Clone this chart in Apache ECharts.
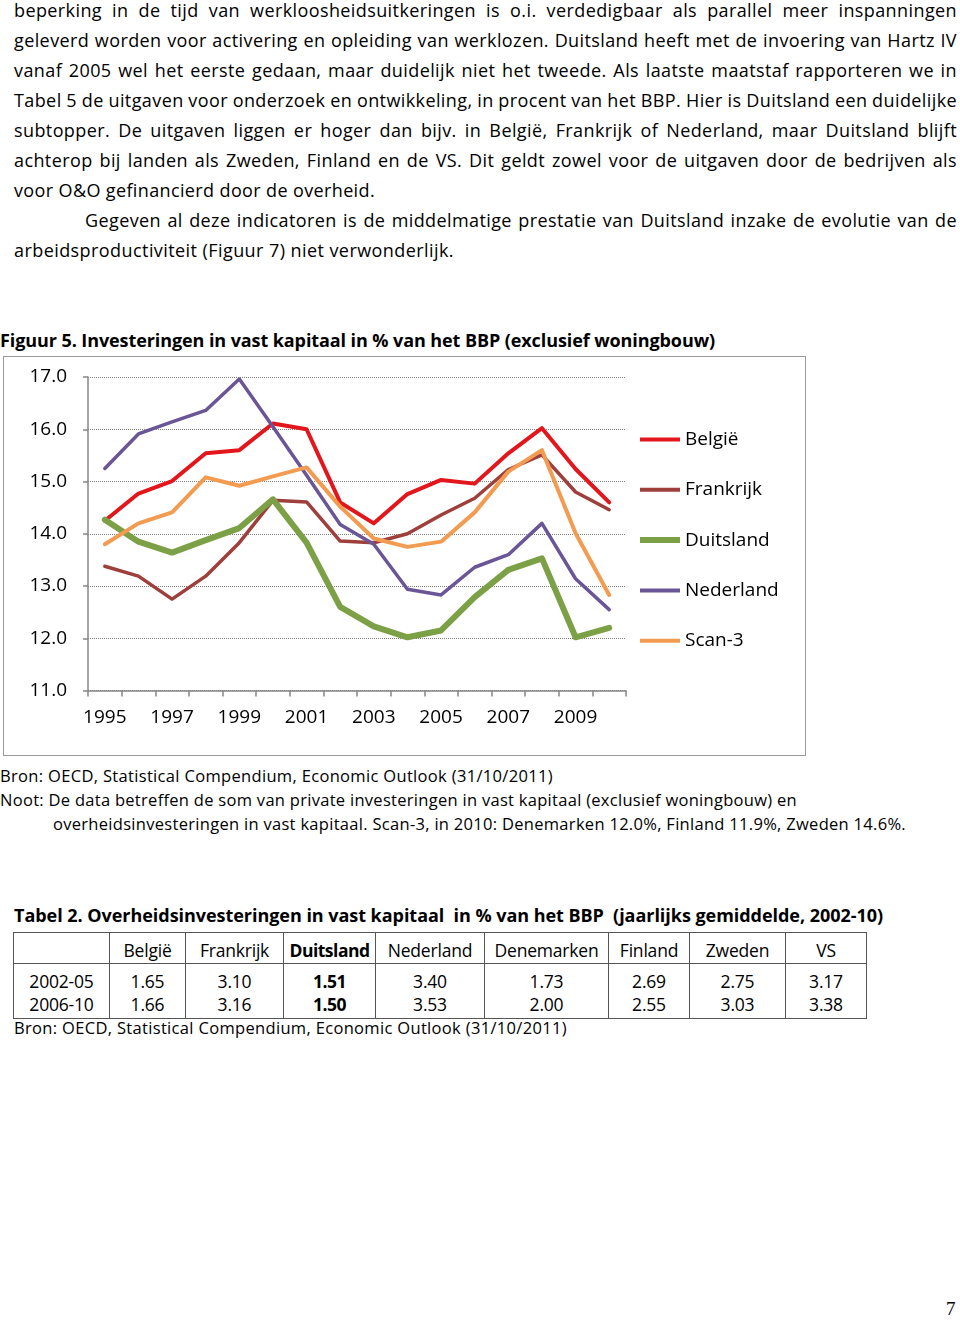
<!DOCTYPE html>
<html><head><meta charset="utf-8">
<script src="https://cdn.jsdelivr.net/npm/echarts@6/dist/echarts.min.js"></script>
<style>
html,body{margin:0;padding:0;background:#fff;}
body{width:960px;height:1321px;position:relative;overflow:hidden;font-family:"Open Sans",sans-serif;color:#000;}
.t{position:absolute;white-space:nowrap;line-height:24px;height:24px;}
.p{font-size:18px;}
.b{font-weight:bold;}
.s{font-size:16.5px;}
#frame{position:absolute;left:3px;top:356px;width:801px;height:398px;border:1px solid #9a9a9a;}
#chart{width:801px;height:398px;}
#tbl{position:absolute;left:13px;top:932px;border-collapse:collapse;font-size:17.5px;letter-spacing:-0.2px;table-layout:fixed;}
#tbl td{text-align:center;padding:0;border-left:1.5px solid #555;border-right:1.5px solid #555;white-space:nowrap;}
#tbl tr.h td{border-top:1.5px solid #555;border-bottom:1.5px solid #555;height:26px;line-height:26px;padding-top:4px;}
#tbl tr.r1 td{padding-top:6px;line-height:23px;}
#tbl tr.r2 td{line-height:23px;padding-bottom:2px;border-bottom:1.5px solid #555;}
#pg{position:absolute;left:946px;top:1298px;font-family:"Liberation Serif",serif;font-size:19px;}
</style></head><body>
<div class="t p" data-x="14" data-y="10" data-w="943" data-m="j">beperking in de tijd van werkloosheidsuitkeringen is o.i. verdedigbaar als parallel meer inspanningen</div>
<div class="t p" data-x="14" data-y="40" data-w="943" data-m="j">geleverd worden voor activering en opleiding van werklozen. Duitsland heeft met de invoering van Hartz IV</div>
<div class="t p" data-x="14" data-y="70" data-w="943" data-m="j">vanaf 2005 wel het eerste gedaan, maar duidelijk niet het tweede. Als laatste maatstaf rapporteren we in</div>
<div class="t p" data-x="14" data-y="100" data-w="943" data-m="j">Tabel 5 de uitgaven voor onderzoek en ontwikkeling, in procent van het BBP. Hier is Duitsland een duidelijke</div>
<div class="t p" data-x="14" data-y="130" data-w="943" data-m="j">subtopper. De uitgaven liggen er hoger dan bijv. in België, Frankrijk of Nederland, maar Duitsland blijft</div>
<div class="t p" data-x="14" data-y="160" data-w="943" data-m="j">achterop bij landen als Zweden, Finland en de VS. Dit geldt zowel voor de uitgaven door de bedrijven als</div>
<div class="t p ref" data-x="14" data-y="190" data-w="361" data-m="l">voor O&amp;O gefinancierd door de overheid.</div>
<div class="t p" data-x="85" data-y="220" data-w="872" data-m="j">Gegeven al deze indicatoren is de middelmatige prestatie van Duitsland inzake de evolutie van de</div>
<div class="t p ref" data-x="14" data-y="250" data-w="440" data-m="l">arbeidsproductiviteit (Figuur 7) niet verwonderlijk.</div>

<div class="t p b" data-x="0" data-y="340" data-w="715" data-m="l">Figuur 5. Investeringen in vast kapitaal in % van het BBP (exclusief woningbouw)</div>
<div id="frame"><div id="chart"></div></div>

<div class="t s" data-x="0" data-y="776" data-w="553" data-m="l">Bron: OECD, Statistical Compendium, Economic Outlook (31/10/2011)</div>
<div class="t s" data-x="0" data-y="800" data-w="797" data-m="l">Noot: De data betreffen de som van private investeringen in vast kapitaal (exclusief woningbouw) en</div>
<div class="t s" data-x="53" data-y="824" data-w="853" data-m="l">overheidsinvesteringen in vast kapitaal. Scan-3, in 2010: Denemarken 12.0%, Finland 11.9%, Zweden 14.6%.</div>

<div class="t p b" data-x="14" data-y="915" data-w="869" data-m="l">Tabel 2. Overheidsinvesteringen in vast kapitaal&nbsp; in % van het BBP&nbsp; (jaarlijks gemiddelde, 2002-10)</div>
<table id="tbl"></table>
<div class="t s" data-x="14" data-y="1028" data-w="553" data-m="l">Bron: OECD, Statistical Compendium, Economic Outlook (31/10/2011)</div>
<div id="pg">7</div>

<script>
// ---- Chart data (Figuur 5) ----
var years = ['1995','1996','1997','1998','1999','2000','2001','2002','2003','2004','2005','2006','2007','2008','2009','2010'];
var belgie    = [14.25, 14.77, 15.01, 15.54, 15.60, 16.11, 16.00, 14.60, 14.20, 14.76, 15.03, 14.96, 15.54, 16.02, 15.24, 14.60];
var frankrijk = [13.38, 13.19, 12.75, 13.19, 13.83, 14.64, 14.61, 13.86, 13.83, 14.00, 14.36, 14.68, 15.23, 15.51, 14.80, 14.46];
var duitsland = [14.27, 13.85, 13.64, 13.88, 14.11, 14.66, 13.83, 12.60, 12.23, 12.02, 12.15, 12.79, 13.31, 13.53, 12.02, 12.20];
var nederland = [15.25, 15.91, 16.14, 16.36, 16.96, 16.05, 15.12, 14.18, 13.80, 12.94, 12.83, 13.36, 13.60, 14.20, 13.14, 12.55];
var scan3     = [13.80, 14.20, 14.41, 15.08, 14.92, 15.10, 15.27, 14.52, 13.91, 13.75, 13.85, 14.41, 15.19, 15.60, 14.01, 12.83];
var seriesNames = ['België','Frankrijk','Duitsland','Nederland','Scan-3'];

// ---- Table data (Tabel 2) ----
var tableCols = ['België','Frankrijk','Duitsland','Nederland','Denemarken','Finland','Zweden','VS'];
var tableRows = ['2002-05','2006-10'];
var row2002 = ['1.65','3.10','1.51','3.40','1.73','2.69','2.75','3.17'];
var row2006 = ['1.66','3.16','1.50','3.53','2.00','2.55','3.03','3.38'];

// build table
(function(){
  var widths = [96,76,98,92,109,124,81,96,81];
  var t = document.getElementById('tbl');
  var cg = '<colgroup>' + widths.map(function(w){return '<col style="width:'+w+'px">';}).join('') + '</colgroup>';
  function cell(txt, i){ return '<td' + (tableCols[i]==='Duitsland' ? ' style="font-weight:bold;letter-spacing:-0.5px"' : '') + '>' + txt + '</td>'; }
  var h = '<tr class="h"><td></td>' + tableCols.map(cell).join('') + '</tr>';
  var r1 = '<tr class="r1"><td>' + tableRows[0] + '</td>' + row2002.map(cell).join('') + '</tr>';
  var r2 = '<tr class="r2"><td>' + tableRows[1] + '</td>' + row2006.map(cell).join('') + '</tr>';
  t.innerHTML = cg + h + r1 + r2;
})();

function fitText(){
  var els = document.querySelectorAll('.t');
  var baseLs = 0, nref = 0;
  els.forEach(function(el){
    el.style.left = el.dataset.x + 'px';
    el.style.top = (parseFloat(el.dataset.y) - 12) + 'px';
    el.style.letterSpacing = '0px'; el.style.wordSpacing = '0px';
  });
  els.forEach(function(el){
    if (el.dataset.m !== 'l') return;
    var W = parseFloat(el.dataset.w);
    var w0 = el.getBoundingClientRect().width;
    var n = el.textContent.length;
    var ls = (W - w0) / n;
    el.style.letterSpacing = ls + 'px';
    if (el.classList.contains('ref')) { baseLs += ls; nref++; }
  });
  baseLs = nref ? baseLs / nref : 0;
  els.forEach(function(el){
    if (el.dataset.m !== 'j') return;
    var W = parseFloat(el.dataset.w);
    el.style.letterSpacing = baseLs + 'px';
    var w1 = el.getBoundingClientRect().width;
    var spaces = (el.textContent.match(/ /g) || []).length;
    el.style.wordSpacing = ((W - w1) / spaces) + 'px';
  });
}

var colors = ['#E3161C', '#9E3F3B', '#7BA045', '#6A5596', '#F39B50'];
var widthsL = [4, 3.5, 6, 3.5, 4];
var dataAll = [belgie, frankrijk, duitsland, nederland, scan3];

var chart = echarts.init(document.getElementById('chart'), null, {renderer: 'canvas'});
chart.setOption({
  animation: false,
  textStyle: {fontFamily: '"Open Sans", sans-serif', color: '#000'},
  grid: {left: 84, right: 179, top: 20, bottom: 64.4, containLabel: false},
  legend: {
    orient: 'vertical', left: 631, top: 68,
    itemWidth: 40, itemHeight: 6, itemGap: 31.3,
    textStyle: {fontSize: 19, color: '#000', fontFamily: '"Open Sans", sans-serif'},
    data: seriesNames.map(function(n, i){
      return {name: n, icon: widthsL[i] >= 6 ? 'path://M0,0h40v6h-40z' : 'path://M0,0h40v4h-40z'};
    })
  },
  xAxis: {
    type: 'category', data: years, boundaryGap: true,
    axisLine: {lineStyle: {color: '#868686', width: 1.5}},
    axisTick: {show: true, interval: 0, length: 6, lineStyle: {color: '#868686', width: 1.5}},
    axisLabel: {interval: 1, margin: 17, fontSize: 19, color: '#000', fontFamily: '"Open Sans", sans-serif'},
    splitLine: {show: false}
  },
  yAxis: {
    type: 'value', min: 11, max: 17, interval: 1,
    axisLine: {show: true, lineStyle: {color: '#868686', width: 1.5}},
    axisTick: {show: true, length: 5, lineStyle: {color: '#868686', width: 1.5}},
    axisLabel: {margin: 21, fontSize: 19, color: '#000', fontFamily: '"Open Sans", sans-serif',
      formatter: function(v){ return v.toFixed(1); }},
    splitLine: {show: true, lineStyle: {type: 'dotted', color: '#808080', width: 1}}
  },
  series: seriesNames.map(function(n, i){
    return {
      name: n, type: 'line', data: dataAll[i], symbol: 'none', smooth: false,
      color: colors[i],
      itemStyle: {color: colors[i]},
      lineStyle: {color: colors[i], width: widthsL[i], cap: 'round', join: 'round'}
    };
  })
});

if (document.fonts && document.fonts.ready) {
  fitText();
  document.fonts.ready.then(function(){ fitText(); });
} else { fitText(); }
</script>
</body></html>
